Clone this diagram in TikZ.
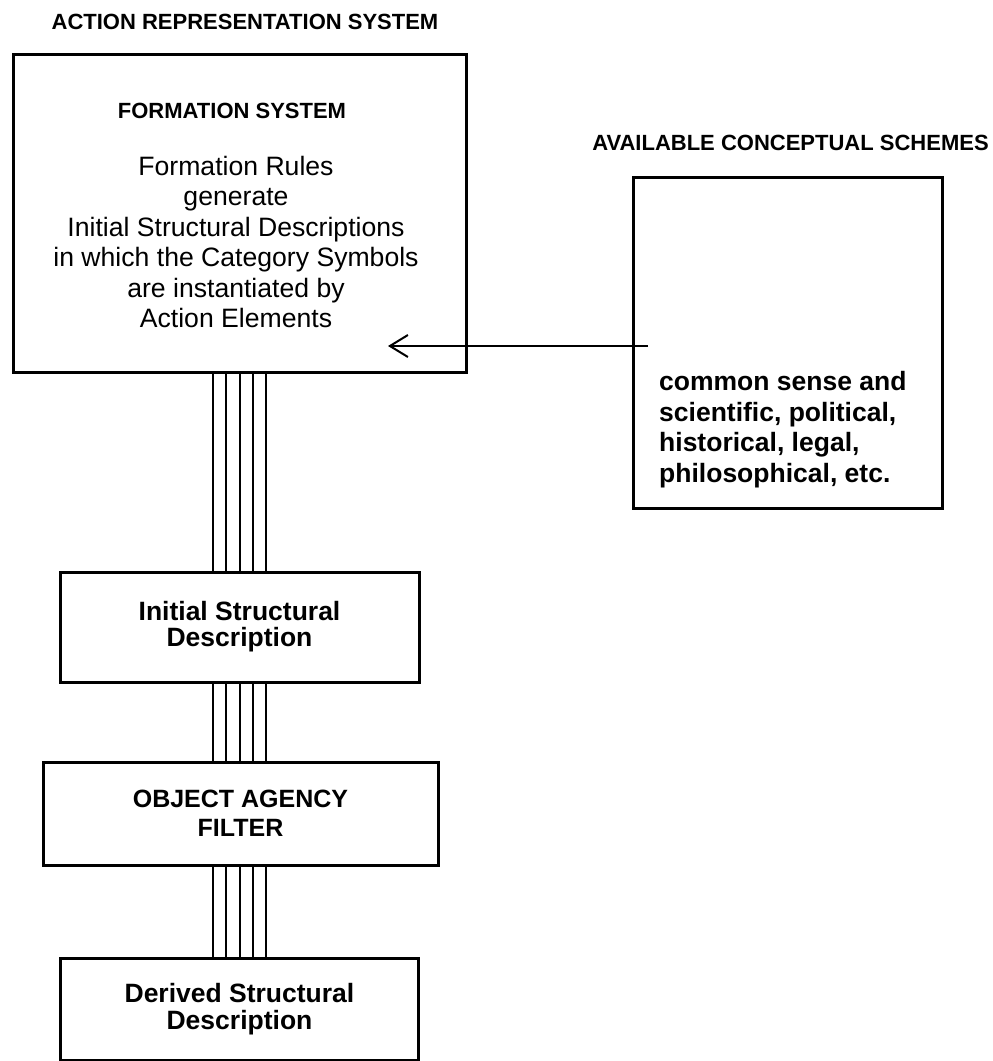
\documentclass[tikz,border=0pt]{standalone}
\usepackage{fontspec}
\setmainfont{Liberation Sans}
\usetikzlibrary{arrows.meta}
\begin{document}
\begin{tikzpicture}[x=1pt,y=-1pt,
  box/.style={draw,line width=3pt,rectangle,inner sep=0pt},
  hdr/.style={font=\fontsize{22}{26}\selectfont\bfseries,inner sep=0pt,anchor=base},
  body/.style={font=\fontsize{26.6}{30.4}\selectfont,align=center,inner sep=0pt,anchor=north},
  lbl/.style={box,font=\fontsize{26.5}{26}\selectfont\bfseries,align=center},
  bar/.style={line width=2pt},
  arr/.style={line width=2pt,-{Straight Barb[length=18pt,width=22pt,line width=2pt]}}
]
\useasboundingbox[fill=white] (0,0) rectangle (993,1061);

% headings
\node[hdr] (ars) at (245,29.4) {ACTION REPRESENTATION SYSTEM};
\node[hdr] (ach) at (790.5,150.4) {AVAILABLE CONCEPTUAL SCHEMES};

% formation system
\node[box,minimum width=453pt,minimum height=318pt] (fs) at (239.5,213) {};
\node[hdr] (fsh) at (232,118) {FORMATION SYSTEM};
\node[body] (rules) at (236,156) {Formation Rules\\generate\\Initial Structural Descriptions\\in which the Category Symbols\\are instantiated by\\Action Elements};

% conceptual schemes
\node[box,minimum width=309pt,minimum height=331pt] (acs) at (787.5,342.5) {};
\node[font=\fontsize{26.5}{30.6}\selectfont\bfseries,align=left,anchor=north west,inner sep=0pt] (kinds) at (659,371) {common sense and\\scientific, political,\\historical, legal,\\philosophical, etc.};

% pipeline boxes
\node[lbl,minimum width=359pt,minimum height=110pt] (isd) at (239.5,627) {Initial Structural\\Description};
\node[lbl,font=\fontsize{25}{29}\selectfont\bfseries,minimum width=395pt,minimum height=103pt] (oaf) at (240.5,813.5) {OBJECT AGENCY\\FILTER};
\node[lbl,font=\fontsize{26.5}{27}\selectfont\bfseries,minimum width=358pt,minimum height=102pt] (dsd) at (239.5,1009) {Derived Structural\\Description};

% five-strand connectors
\foreach \dx in {-26.5,-13.5,0,13.5,26.5} {
  \draw[bar] ([xshift=\dx pt]fs.south) -- ([xshift=\dx pt]fs.south |- isd.north);
  \draw[bar] ([xshift=\dx pt]isd.south) -- ([xshift=\dx pt]isd.south |- oaf.north);
  \draw[bar] ([xshift=\dx pt]isd.south |- oaf.south) -- ([xshift=\dx pt]isd.south |- dsd.north);
}

% schemes feed the formation system
\coordinate (src) at (648,346);
\coordinate (tip) at (388,346);
\draw[arr] (src) -- (tip);
\end{tikzpicture}
\end{document}
